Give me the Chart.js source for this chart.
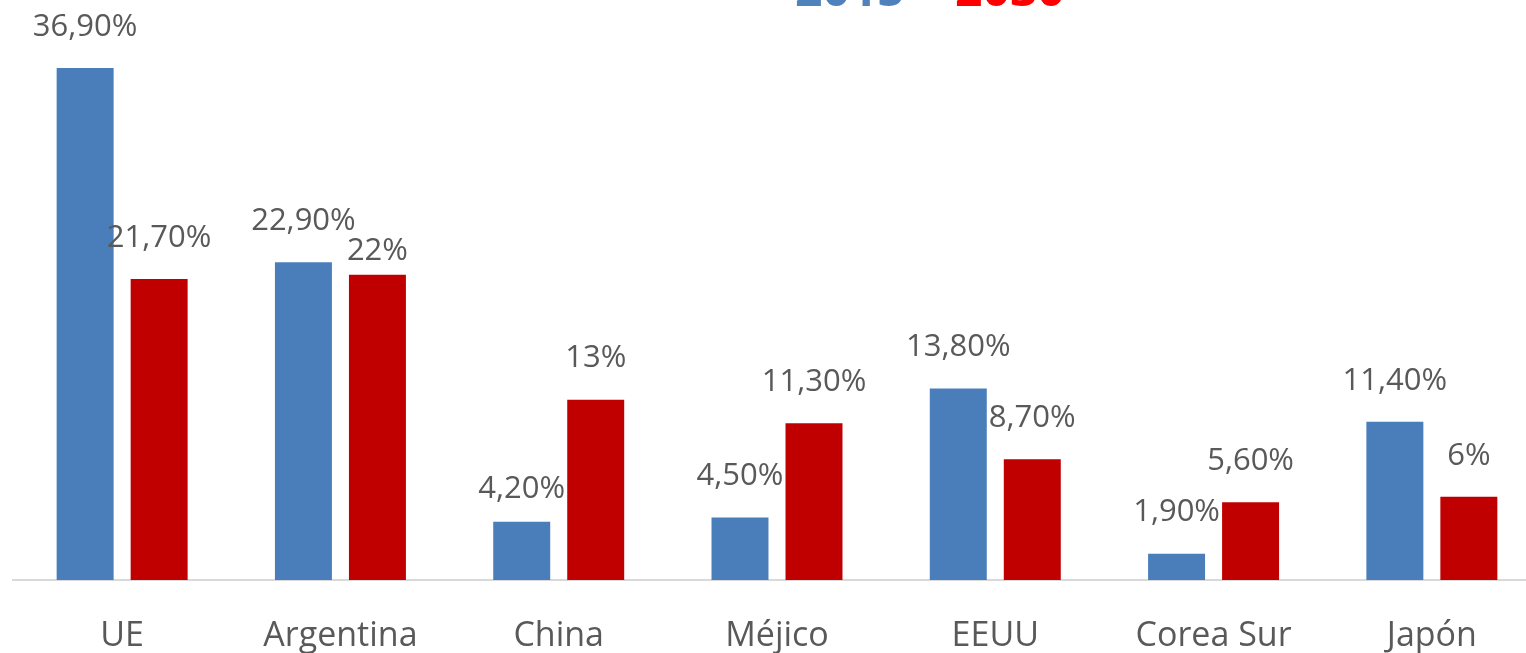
<!DOCTYPE html>
<html>
<head>
<meta charset="utf-8">
<script src="https://cdn.jsdelivr.net/npm/chart.js@4"></script>
<style>
  html, body { margin: 0; padding: 0; background: #fff; overflow: hidden; }
  #wrap { width: 1545px; height: 653px; position: relative; }
</style>
</head>
<body>
<div id="wrap"><canvas id="chart"></canvas></div>
<script>
const categories = ["UE", "Argentina", "China", "Méjico", "EEUU", "Corea Sur", "Japón"];
const values2015 = [36.9, 22.9, 4.2, 4.5, 13.8, 1.9, 11.4];
const values2030 = [21.7, 22, 13, 11.3, 8.7, 5.6, 6];
const yearFrom = "2015";
const yearTo = "2030";

const fmt = v => (Number.isInteger(v) ? String(v) : v.toFixed(2).replace(".", ",")) + "%";

// label lift above the bar top, a few were moved by hand in the original
const labelLift = { "1-1": 24, "0-2": 33 };

const valueLabels = {
  id: "valueLabels",
  afterDatasetsDraw(chart) {
    const ctx = chart.ctx;
    ctx.save();
    ctx.font = "31px 'Open Sans'";
    ctx.fillStyle = "#595959";
    ctx.textAlign = "center";
    ctx.textBaseline = "middle";
    chart.data.datasets.forEach((ds, di) => {
      chart.getDatasetMeta(di).data.forEach((bar, i) => {
        const lift = labelLift[di + "-" + i] ?? 41;
        ctx.fillText(fmt(ds.data[i]), bar.x, bar.y - lift);
      });
    });
    ctx.restore();
  }
};

const titleText = {
  id: "titleText",
  afterDraw(chart) {
    const ctx = chart.ctx;
    ctx.save();
    ctx.font = "bold 48px 'Open Sans'";
    ctx.textBaseline = "alphabetic";
    ctx.textAlign = "left";
    ctx.fillStyle = "#4F81BD";
    ctx.fillText(yearFrom, 795, 6);
    ctx.fillStyle = "#595959";
    ctx.fillText("-", 915, 6);
    ctx.fillStyle = "#FF0000";
    ctx.fillText(yearTo, 955, 6);
    ctx.restore();
  }
};

new Chart(document.getElementById("chart"), {
  type: "bar",
  data: {
    labels: categories,
    datasets: [
      { label: yearFrom, data: values2015, backgroundColor: "#4A7EBB" },
      { label: yearTo, data: values2030, backgroundColor: "#C00000" }
    ]
  },
  options: {
    responsive: true,
    maintainAspectRatio: false,
    animation: false,
    categoryPercentage: 0.678,
    barPercentage: 0.77,
    layout: { padding: { left: 13, right: 4, top: 25, bottom: 0 } },
    plugins: {
      legend: { display: false },
      tooltip: { enabled: false }
    },
    scales: {
      x: {
        grid: { display: false, drawTicks: false },
        border: { display: true, color: "#D9D9D9", width: 2 },
        ticks: {
          color: "#595959",
          font: { family: "'Open Sans'", size: 34 },
          padding: 36
        },
        afterFit(s) { s.height = 73; }
      },
      y: {
        display: false,
        min: 0,
        max: 40
      }
    }
  },
  plugins: [valueLabels, titleText]
});
</script>
</body>
</html>
